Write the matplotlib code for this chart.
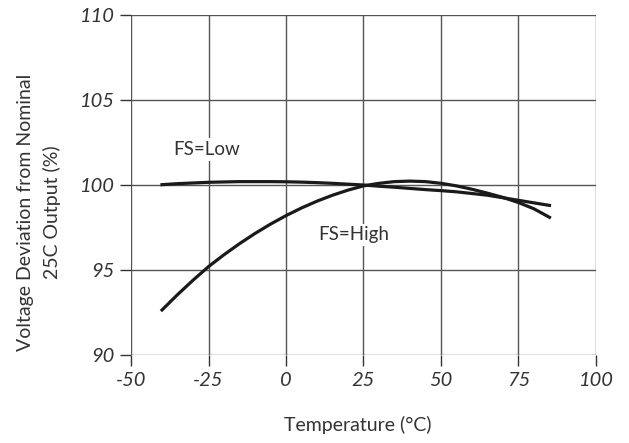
import matplotlib.pyplot as plt

# Data
temp = [-40, -35, -30, -25, -20, -15, -10, -5, 0, 5, 10, 15, 20, 25, 30, 35, 40,
        45, 50, 55, 60, 65, 70, 75, 80, 85]
fs_low = [100.02, 100.08, 100.12, 100.16, 100.18, 100.2, 100.2, 100.2, 100.19, 100.17,
          100.14, 100.1, 100.05, 100.0, 99.93, 99.87, 99.8, 99.73, 99.67, 99.6, 99.5,
          99.4, 99.25, 99.1, 98.95, 98.8]
fs_high = [92.65, 93.55, 94.4, 95.2, 95.9, 96.55, 97.15, 97.7, 98.2, 98.65, 99.05, 99.4,
           99.7, 99.95, 100.1, 100.2, 100.23, 100.2, 100.1, 99.95, 99.75, 99.52, 99.27,
           98.97, 98.6, 98.1]

x_ticks = [-50, -25, 0, 25, 50, 75, 100]
y_ticks = [90, 95, 100, 105, 110]

plt.rcParams['font.family'] = ['Lato', 'DejaVu Sans']
txt_color = '#333333'

fig = plt.figure(figsize=(6.29, 4.43), dpi=100)
ax = fig.add_axes([0.2083, 0.1986, 0.9475 - 0.2083, 0.9661 - 0.1986])

ax.plot(temp, fs_low, color='#1a1a1a', lw=2.3, zorder=3)
ax.plot(temp, fs_high, color='#1a1a1a', lw=2.3, zorder=3)

ax.set_xlim(-50, 100)
ax.set_ylim(90, 110)
ax.set_xticks(x_ticks)
ax.set_yticks(y_ticks)
ax.set_xticklabels([str(t) for t in x_ticks], fontsize=14.5, style='italic', color=txt_color)
ax.set_yticklabels([str(t) for t in y_ticks], fontsize=14.5, style='italic', color=txt_color)
ax.tick_params(length=8, width=1, color='#333333', pad=4)

ax.grid(True, color='#555555', lw=1)
for s in ax.spines.values():
    s.set_visible(False)

ax.text(-36.5, 102.1, "FS=Low", fontsize=13.5, color=txt_color,
        va='center', ha='left', bbox=dict(facecolor='white', edgecolor='none', pad=2), zorder=2)
ax.text(10.3, 97.06, "FS=High", fontsize=13.5, color=txt_color,
        va='center', ha='left', bbox=dict(facecolor='white', edgecolor='none', pad=2), zorder=2)

fig.text(358 / 629, 1 - 425 / 443, "Temperature (°C)", fontsize=14,
         color=txt_color, ha='center', va='center')
fig.text(39 / 629, 1 - 212 / 443, "Voltage Deviation from Nominal\n25C Output (%)",
         fontsize=14, color=txt_color, ha='center', va='center',
         rotation=90, linespacing=1.6)

fig.savefig("out.png", dpi=100)
